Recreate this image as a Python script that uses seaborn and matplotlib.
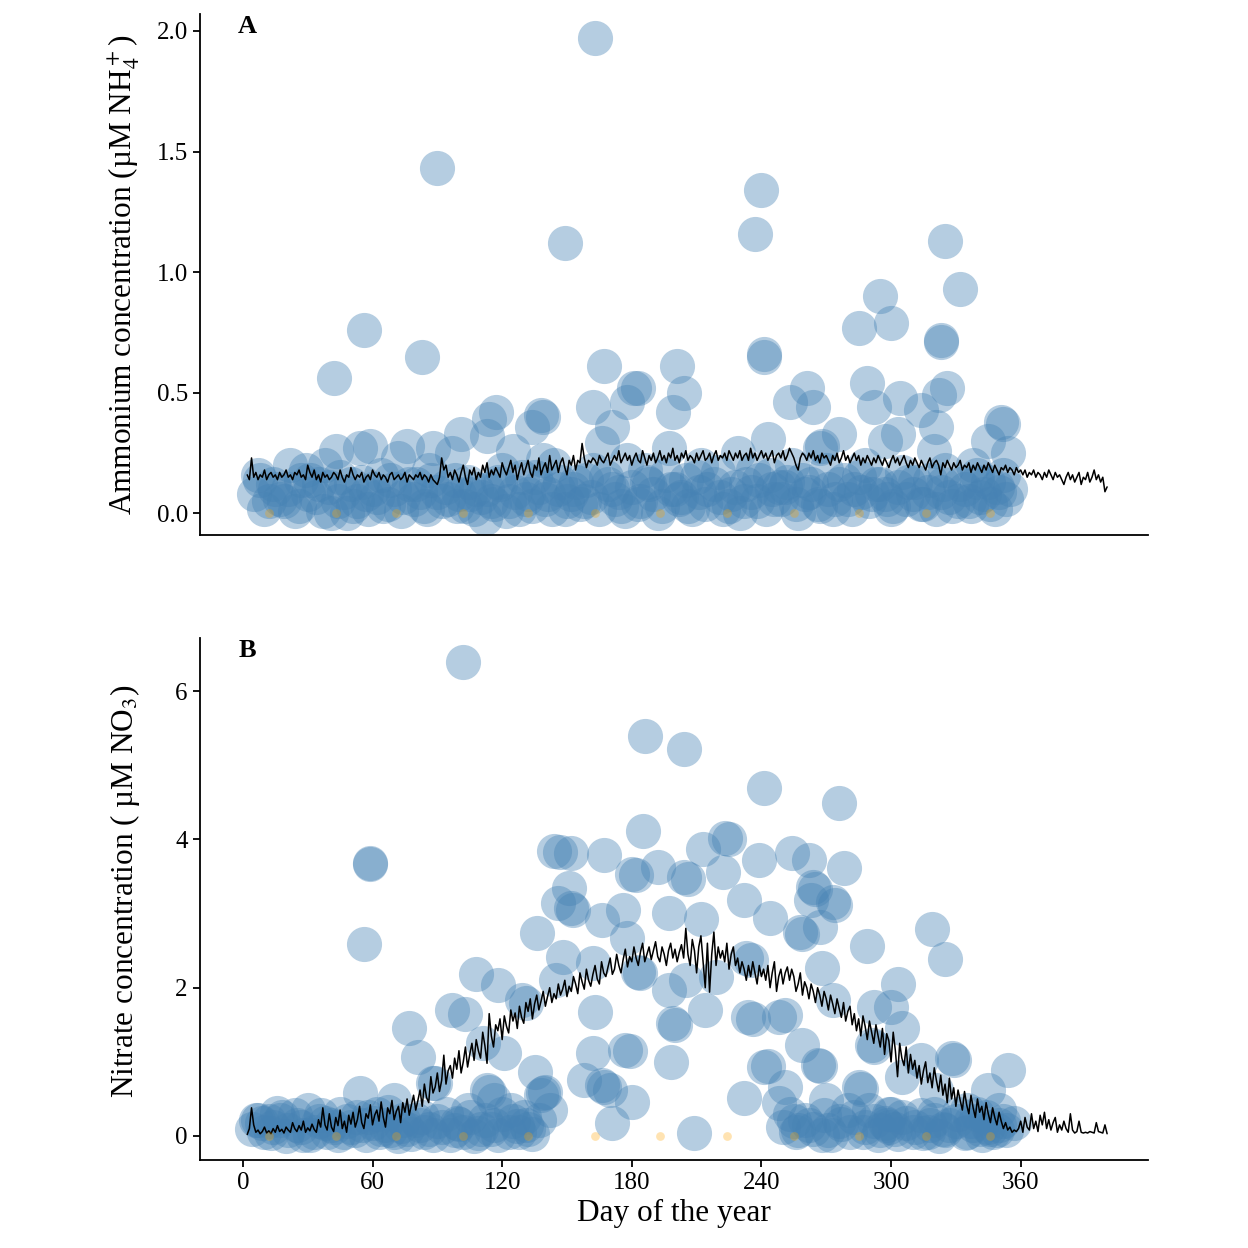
import numpy as np
import pandas as pd
import matplotlib
matplotlib.use("Agg")
import matplotlib.pyplot as plt
import seaborn as sns

# ---------------- data ----------------
line_days = list(range(2, 401))

nh4_line = [
0.16,0.14,0.23,0.15,0.17,0.14,0.16,0.15,0.18,0.14,
0.16,0.17,0.15,0.16,0.14,0.17,0.15,0.16,0.18,0.15,
0.16,0.14,0.17,0.16,0.18,0.15,0.16,0.14,0.20,0.17,
0.15,0.18,0.14,0.16,0.13,0.17,0.15,0.16,0.14,0.15,
0.17,0.16,0.14,0.18,0.15,0.13,0.16,0.15,0.19,0.16,
0.14,0.16,0.15,0.17,0.13,0.15,0.16,0.14,0.18,0.16,
0.15,0.17,0.14,0.16,0.15,0.13,0.16,0.17,0.14,0.15,
0.16,0.14,0.15,0.17,0.13,0.16,0.15,0.14,0.16,0.15,
0.17,0.14,0.16,0.15,0.13,0.16,0.14,0.13,0.12,0.15,
0.23,0.18,0.20,0.15,0.17,0.14,0.18,0.16,0.13,0.17,
0.20,0.15,0.12,0.18,0.16,0.19,0.14,0.17,0.15,0.20,
0.17,0.21,0.15,0.18,0.16,0.19,0.17,0.15,0.21,0.18,
0.16,0.19,0.22,0.17,0.20,0.14,0.18,0.21,0.16,0.19,
0.22,0.17,0.15,0.20,0.18,0.23,0.16,0.19,0.21,0.17,
0.24,0.18,0.20,0.22,0.17,0.21,0.23,0.19,0.16,0.22,
0.20,0.24,0.18,0.22,0.21,0.29,0.23,0.19,0.22,0.21,
0.23,0.22,0.20,0.24,0.22,0.21,0.23,0.25,0.20,0.22,
0.24,0.22,0.26,0.21,0.23,0.25,0.22,0.24,0.20,0.23,
0.25,0.22,0.21,0.26,0.23,0.20,0.24,0.22,0.25,0.21,
0.23,0.26,0.22,0.24,0.21,0.25,0.23,0.27,0.22,0.24,
0.21,0.25,0.23,0.26,0.22,0.24,0.23,0.21,0.25,0.22,
0.24,0.26,0.22,0.23,0.25,0.21,0.24,0.26,0.22,0.24,
0.23,0.25,0.22,0.26,0.24,0.22,0.25,0.23,0.26,0.22,
0.24,0.25,0.22,0.27,0.23,0.25,0.22,0.24,0.26,0.23,
0.25,0.22,0.24,0.26,0.21,0.24,0.25,0.23,0.26,0.22,
0.24,0.27,0.25,0.23,0.20,0.18,0.23,0.25,0.24,0.22,
0.25,0.23,0.26,0.22,0.24,0.21,0.25,0.23,0.24,0.22,
0.20,0.24,0.22,0.25,0.21,0.23,0.26,0.22,0.24,0.21,
0.23,0.25,0.22,0.24,0.20,0.23,0.21,0.24,0.22,0.20,
0.23,0.21,0.24,0.22,0.20,0.23,0.21,0.19,0.22,0.24,
0.21,0.23,0.20,0.22,0.24,0.21,0.19,0.22,0.20,0.23,
0.21,0.19,0.22,0.20,0.18,0.21,0.23,0.19,0.21,0.22,
0.20,0.16,0.21,0.19,0.22,0.20,0.18,0.21,0.19,0.20,
0.22,0.18,0.20,0.19,0.21,0.17,0.20,0.18,0.21,0.19,
0.17,0.20,0.18,0.21,0.19,0.17,0.20,0.18,0.16,0.19,
0.18,0.20,0.17,0.19,0.18,0.16,0.19,0.17,0.18,0.16,
0.18,0.15,0.17,0.16,0.18,0.15,0.17,0.16,0.14,0.17,
0.15,0.18,0.16,0.14,0.17,0.15,0.16,0.14,0.12,0.15,
0.17,0.14,0.16,0.13,0.15,0.17,0.12,0.15,0.14,0.17,
0.13,0.15,0.18,0.14,0.16,0.13,0.15,0.09,0.11]

no3_line = [
0.02,0.10,0.38,0.15,0.05,0.08,0.03,0.06,0.12,0.04,
0.07,0.03,0.10,0.05,0.14,0.06,0.09,0.04,0.12,0.08,
0.05,0.18,0.10,0.06,0.14,0.08,0.20,0.05,0.11,0.07,
0.16,0.09,0.05,0.22,0.12,0.38,0.15,0.08,0.30,0.12,
0.06,0.25,0.14,0.35,0.10,0.20,0.05,0.28,0.16,0.32,
0.12,0.22,0.40,0.18,0.10,0.30,0.24,0.42,0.15,0.28,
0.35,0.20,0.46,0.25,0.12,0.38,0.30,0.48,0.22,0.33,
0.40,0.18,0.45,0.32,0.50,0.28,0.42,0.55,0.35,0.48,
0.62,0.40,0.70,0.52,0.45,0.80,0.58,0.66,0.85,0.60,
0.75,1.09,0.70,0.88,0.95,0.78,1.05,0.90,1.15,0.85,
1.00,1.20,0.93,1.10,1.25,1.02,1.30,1.15,1.05,1.40,
1.22,0.98,1.65,1.35,1.20,1.50,1.42,1.58,1.30,1.62,
1.48,1.39,1.70,1.55,1.66,1.45,1.75,1.60,1.52,1.80,
1.68,1.85,1.58,1.78,1.90,1.70,1.82,1.95,1.75,1.88,
2.00,1.80,1.92,1.85,2.05,1.90,1.98,2.10,1.88,2.02,
1.95,2.15,2.05,1.92,2.20,2.08,1.98,2.25,2.10,2.02,
2.18,2.30,2.12,2.05,2.35,2.20,2.15,2.28,2.40,2.18,
2.25,2.45,2.30,2.20,2.38,2.52,2.28,2.42,2.35,2.55,
2.40,2.30,2.48,2.60,2.35,2.45,2.55,2.38,2.50,2.62,
2.42,2.35,2.55,2.45,2.30,2.50,2.60,2.40,2.52,2.35,
2.48,2.58,2.40,2.80,2.45,2.30,2.65,2.50,2.20,2.55,
2.70,2.35,2.00,2.60,1.94,2.45,2.75,2.30,2.55,2.40,
2.50,2.35,2.60,2.25,2.45,2.55,2.30,2.40,2.20,2.35,
2.25,2.10,2.30,2.15,2.35,2.20,2.05,2.30,2.15,2.25,
2.10,2.30,2.00,2.20,2.35,1.95,2.15,2.25,2.05,2.20,
2.28,2.10,2.25,2.15,1.95,2.05,2.20,1.90,2.08,2.00,
1.85,2.05,1.95,1.80,2.00,1.90,1.75,1.95,1.85,1.70,
1.90,1.78,1.65,1.85,1.72,1.60,1.80,1.55,1.68,1.75,
1.50,1.65,1.42,1.58,1.35,1.62,1.48,1.30,1.55,1.40,
1.25,1.50,1.35,1.20,1.45,1.10,1.38,1.28,1.00,1.40,
1.15,0.80,1.25,1.05,0.95,1.20,0.85,1.10,0.90,1.02,
0.78,0.95,0.70,0.88,1.00,0.72,0.85,0.65,0.92,0.75,
0.60,0.82,0.55,0.70,0.45,0.78,0.50,0.65,0.40,0.62,
0.48,0.35,0.60,0.42,0.30,0.55,0.38,0.25,0.50,0.32,
0.40,0.22,0.45,0.30,0.18,0.38,0.25,0.15,0.32,0.20,
0.10,0.18,0.08,0.12,0.05,0.08,0.06,0.10,0.20,0.05,
0.25,0.12,0.08,0.30,0.10,0.20,0.06,0.28,0.15,0.32,
0.10,0.22,0.08,0.18,0.25,0.05,0.15,0.08,0.20,0.10,
0.05,0.30,0.08,0.04,0.06,0.20,0.05,0.04,0.05,0.04,
0.06,0.05,0.04,0.18,0.06,0.05,0.04,0.15,0.03]

nh4_obs_day = [
163,90,149,240,237,325,332,295,300,285,323,323,241,241,56,83,42,167,201,204,
181,183,178,162,199,138,139,134,171,166,117,114,113,101,59,54,43,76,88,72,
97,22,7,29,253,243,197,125,139,229,289,261,326,322,304,292,264,314,321,351,
352,345,354,276,303,297,267,268,320,
12,19,24,41,53,48,74,84,90,103,112,123,132,149,146,171,183,203,222,233,
248,210,154,257,266,276,291,301,315,323,341,350,345,340,251,
15,30,35,45,60,65,68,80,95,98,108,118,128,135,140,158,162,175,188,192,
196,206,215,220,226,230,238,244,259,270,280,285,295,305,310,318,328,332,336,348,
355,8,27,38,50,57,86,105,115,120,144,152,168,178,186,200,212,236,246,254,
262,273,283,288,298,308,325,338,352]
nh4_obs_val = [
1.97,1.43,1.12,1.34,1.16,1.13,0.93,0.90,0.79,0.77,0.72,0.71,0.66,0.65,0.76,0.65,0.56,0.61,0.61,0.50,
0.52,0.52,0.46,0.44,0.42,0.41,0.40,0.36,0.36,0.29,0.42,0.39,0.32,0.33,0.28,0.27,0.26,0.28,0.27,0.23,
0.25,0.20,0.16,0.18,0.46,0.31,0.27,0.26,0.22,0.25,0.54,0.52,0.52,0.49,0.48,0.44,0.44,0.43,0.36,0.38,
0.37,0.30,0.25,0.33,0.33,0.30,0.27,0.28,0.26,
0.05,0.05,0.01,0.00,0.05,0.00,0.07,0.03,0.09,0.03,-0.02,0.05,0.08,0.02,0.10,0.10,0.04,0.07,0.02,0.12,
0.11,0.15,0.13,0.00,0.04,0.12,0.08,0.03,0.04,0.09,0.07,0.09,0.13,0.16,0.11,
0.10,0.08,0.12,0.15,0.10,0.03,0.14,0.12,0.06,0.14,0.10,0.13,0.02,0.15,0.06,0.05,0.18,0.03,0.12,0.00,
0.16,0.03,0.10,0.17,0.08,0.00,0.05,0.16,0.14,0.18,0.06,0.15,0.12,0.17,0.08,0.14,0.03,0.12,0.05,0.02,
0.10,0.14,0.14,0.20,0.12,0.08,0.18,0.08,0.05,0.18,0.20,0.08,0.15,0.22,0.18,0.10,0.20,0.18,0.06,0.20,
0.09,0.02,0.10,0.20,0.06,0.13,0.18,0.20,0.16]

# additional low ammonium samples (dense cluster near zero)
nh4_low_day = [
5,10,14,17,21,26,31,34,37,40,
44,47,51,55,58,62,64,67,70,73,
77,79,82,85,87,92,94,99,100,104,
107,110,113,116,119,122,126,129,131,134,
137,141,143,147,150,153,156,159,161,165,
169,172,174,177,180,184,187,190,194,198,
202,205,208,211,214,218,221,225,228,232,
235,239,242,245,249,252,256,260,263,267,
271,274,278,282,286,290,293,297,300,303,
307,311,314,317,321,324,327,331,334,337,
340,343,346,349,353]
nh4_low_val = [
0.08,0.02,0.12,0.06,0.10,0.03,0.14,0.07,0.01,0.11,
0.05,0.09,0.03,0.13,0.02,0.07,0.16,0.04,0.10,0.01,
0.12,0.06,0.09,0.02,0.14,0.05,0.11,0.03,0.08,0.13,
0.02,0.07,0.10,0.04,0.12,0.01,0.09,0.15,0.06,0.03,
0.11,0.08,0.02,0.13,0.05,0.10,0.04,0.14,0.07,0.02,
0.12,0.06,0.09,0.01,0.11,0.05,0.13,0.08,0.03,0.10,
0.06,0.14,0.02,0.09,0.04,0.12,0.07,0.03,0.11,0.05,
0.09,0.14,0.02,0.10,0.06,0.13,0.04,0.08,0.12,0.03,
0.10,0.06,0.14,0.02,0.09,0.05,0.12,0.08,0.02,0.11,
0.06,0.13,0.04,0.09,0.02,0.12,0.07,0.05,0.10,0.03,
0.13,0.08,0.04,0.11,0.06]

no3_obs_day = [
102,59,59,56,108,118,97,103,77,81,111,88,89,54,70,113,114,99,30,16,6,7,
186,204,241,185,147,144,152,167,213,223,225,239,254,180,182,192,204,206,222,151,152,153,146,176,
166,197,212,232,244,136,178,148,162,183,184,233,235,145,205,197,219,129,131,163,214,234,236,248,
199,200,121,162,177,179,198,241,243,135,166,167,139,140,138,180,232,171,209,248,137,
276,262,278,264,265,273,274,263,267,258,259,289,319,325,268,303,273,292,300,305,291,292,259,266,
267,314,328,329,354,305,285,286,270,345,321,297,298,299,257,271,315,325,345,346,251,251,
170,158,116,124,131,142,
10,14,20,25,33,38,44,48,52,58,63,66,72,76,80,84,92,96,105,110,118,125,128,132,
12,18,28,36,42,55,62,68,74,82,88,102,107,116,
255,262,268,276,281,288,294,302,305,310,318,322,330,335,338,342,349,352,340,350,335,320,300,290,280]
no3_obs_val = [
6.39,3.68,3.67,2.59,2.19,2.04,1.70,1.65,1.46,1.07,1.25,0.71,0.72,0.58,0.48,0.62,0.60,0.17,0.35,0.31,0.22,0.21,
5.40,5.22,4.69,4.11,3.83,3.85,3.81,3.79,3.87,4.02,4.00,3.72,3.81,3.54,3.52,3.63,3.49,3.47,3.56,3.34,3.07,3.05,3.14,3.05,
2.91,3.01,2.92,3.18,2.94,2.74,2.67,2.42,2.33,2.21,2.20,2.40,2.38,2.10,2.10,1.97,2.14,1.83,1.80,1.67,1.70,1.61,1.58,1.61,
1.52,1.50,1.12,1.12,1.16,1.14,1.00,0.93,0.95,0.86,0.69,0.66,0.58,0.60,0.55,0.46,0.51,0.17,0.04,0.44,0.22,
4.49,3.72,3.61,3.36,3.33,3.15,3.12,3.18,2.82,2.75,2.73,2.56,2.79,2.39,2.26,2.05,1.83,1.74,1.74,1.46,1.23,1.20,1.23,0.96,
0.94,1.02,1.05,1.03,0.89,0.80,0.66,0.64,0.49,0.62,0.62,0.17,0.15,0.12,0.08,0.08,0.04,0.08,0.12,0.10,1.63,0.66,
0.62,0.75,0.48,0.35,0.15,0.35,
0.05,0.12,0.00,0.15,0.05,0.18,0.02,0.20,0.08,0.25,0.05,0.15,0.00,0.10,0.22,0.05,0.12,0.02,0.25,0.10,0.02,0.20,0.05,0.10,
0.20,0.25,0.02,0.28,0.12,0.15,0.30,0.08,0.22,0.15,0.02,0.06,0.00,0.15,
0.20,0.15,0.02,0.20,0.05,0.12,0.02,0.10,0.25,0.05,0.15,0.00,0.20,0.05,0.15,0.02,0.08,0.20,0.30,0.35,0.35,0.30,0.30,0.35,0.35]

# additional low nitrate samples (winter cluster near zero)
no3_low_day = [
4,9,13,17,21,24,27,31,35,39,
41,45,47,50,53,57,60,64,67,70,
73,78,83,86,90,94,98,100,104,109,
112,115,120,123,127,130,134,
250,253,256,260,264,269,272,277,283,287,
292,295,299,303,307,311,314,317,320,324,
327,331,334,337,341,344,347,350,353,357]
no3_low_val = [
0.10,0.18,0.04,0.22,0.08,0.28,0.12,0.02,0.20,0.06,
0.15,0.30,0.05,0.12,0.25,0.02,0.18,0.10,0.32,0.06,
0.14,0.03,0.26,0.10,0.20,0.30,0.08,0.16,0.35,0.04,
0.22,0.10,0.30,0.06,0.14,0.25,0.03,
0.12,0.30,0.05,0.22,0.10,0.28,0.02,0.16,0.25,0.06,
0.20,0.08,0.30,0.03,0.18,0.12,0.28,0.05,0.22,0.10,
0.15,0.30,0.04,0.20,0.10,0.26,0.05,0.15,0.08,0.18]

sample_days = [12, 43, 71, 102, 132, 163, 193, 224, 255, 285, 316, 346]
sample_zero = [0.0] * len(sample_days)

# ---------------- style ----------------
sns.set_theme(style="ticks")
plt.rcParams['font.family'] = ['Liberation Serif', 'DejaVu Serif']
plt.rcParams['mathtext.fontset'] = 'stix'
plt.rcParams['axes.linewidth'] = 1.3
plt.rcParams['xtick.major.width'] = 1.3
plt.rcParams['ytick.major.width'] = 1.3
plt.rcParams['xtick.major.size'] = 5
plt.rcParams['ytick.major.size'] = 5
plt.rcParams['xtick.color'] = 'black'
plt.rcParams['ytick.color'] = 'black'
plt.rcParams['axes.edgecolor'] = 'black'
plt.rcParams['axes.labelcolor'] = 'black'
plt.rcParams['text.color'] = 'black'

fig = plt.figure(figsize=(12.48, 12.48), dpi=100)
axA = fig.add_axes([0.160, 0.571, 0.760, 0.418])
axB = fig.add_axes([0.160, 0.0705, 0.760, 0.4185])

line_df = pd.DataFrame({"day": line_days, "nh4": nh4_line, "no3": no3_line})
nh4_df = pd.DataFrame({"day": nh4_obs_day + nh4_low_day, "val": nh4_obs_val + nh4_low_val})
no3_df = pd.DataFrame({"day": no3_obs_day + no3_low_day, "val": no3_obs_val + no3_low_val})
samp_df = pd.DataFrame({"day": sample_days, "val": sample_zero})

circle_kw = dict(s=640, color="#4682B4", alpha=0.4, linewidth=0, legend=False)
dot_kw = dict(s=40, color="#FFA500", alpha=0.3, linewidth=0, legend=False, zorder=5)

for ax, obs, col in [(axA, nh4_df, "nh4"), (axB, no3_df, "no3")]:
    sns.scatterplot(data=obs, x="day", y="val", ax=ax, **circle_kw)
    sns.lineplot(data=line_df, x="day", y=col, ax=ax, color="black", linewidth=1.1, zorder=4)
    sns.scatterplot(data=samp_df, x="day", y="val", ax=ax, **dot_kw)
    ax.set_xlim(-20, 419)
    sns.despine(ax=ax)
    ax.tick_params(labelsize=18, colors='black')

axA.set_ylim(-0.091, 2.071)
axA.set_yticks([0.0, 0.5, 1.0, 1.5, 2.0])
axA.set_yticklabels(["0.0", "0.5", "1.0", "1.5", "2.0"])
axA.set_xticks([])
axA.set_xlabel("")
axA.set_ylabel("Ammonium concentration (µM NH$_4^+$)", fontsize=22.5)

axB.set_ylim(-0.324, 6.72)
axB.set_yticks([0, 2, 4, 6])
axB.set_xticks([0, 60, 120, 180, 240, 300, 360])
axB.set_xlabel("Day of the year", fontsize=22.5)
axB.set_ylabel("Nitrate concentration ( µM NO$_3$)", fontsize=22.5)

axA.yaxis.set_label_coords(-0.061, 0.5)
axB.yaxis.set_label_coords(-0.061, 0.515)

axA.text(0.05, 0.975, "A", transform=axA.transAxes, fontsize=19, fontweight="bold",
         ha="center", va="center", color="black")
axB.text(0.05, 0.975, "B", transform=axB.transAxes, fontsize=19, fontweight="bold",
         ha="center", va="center", color="black")

fig.savefig("out.png", dpi=100, facecolor="white")
